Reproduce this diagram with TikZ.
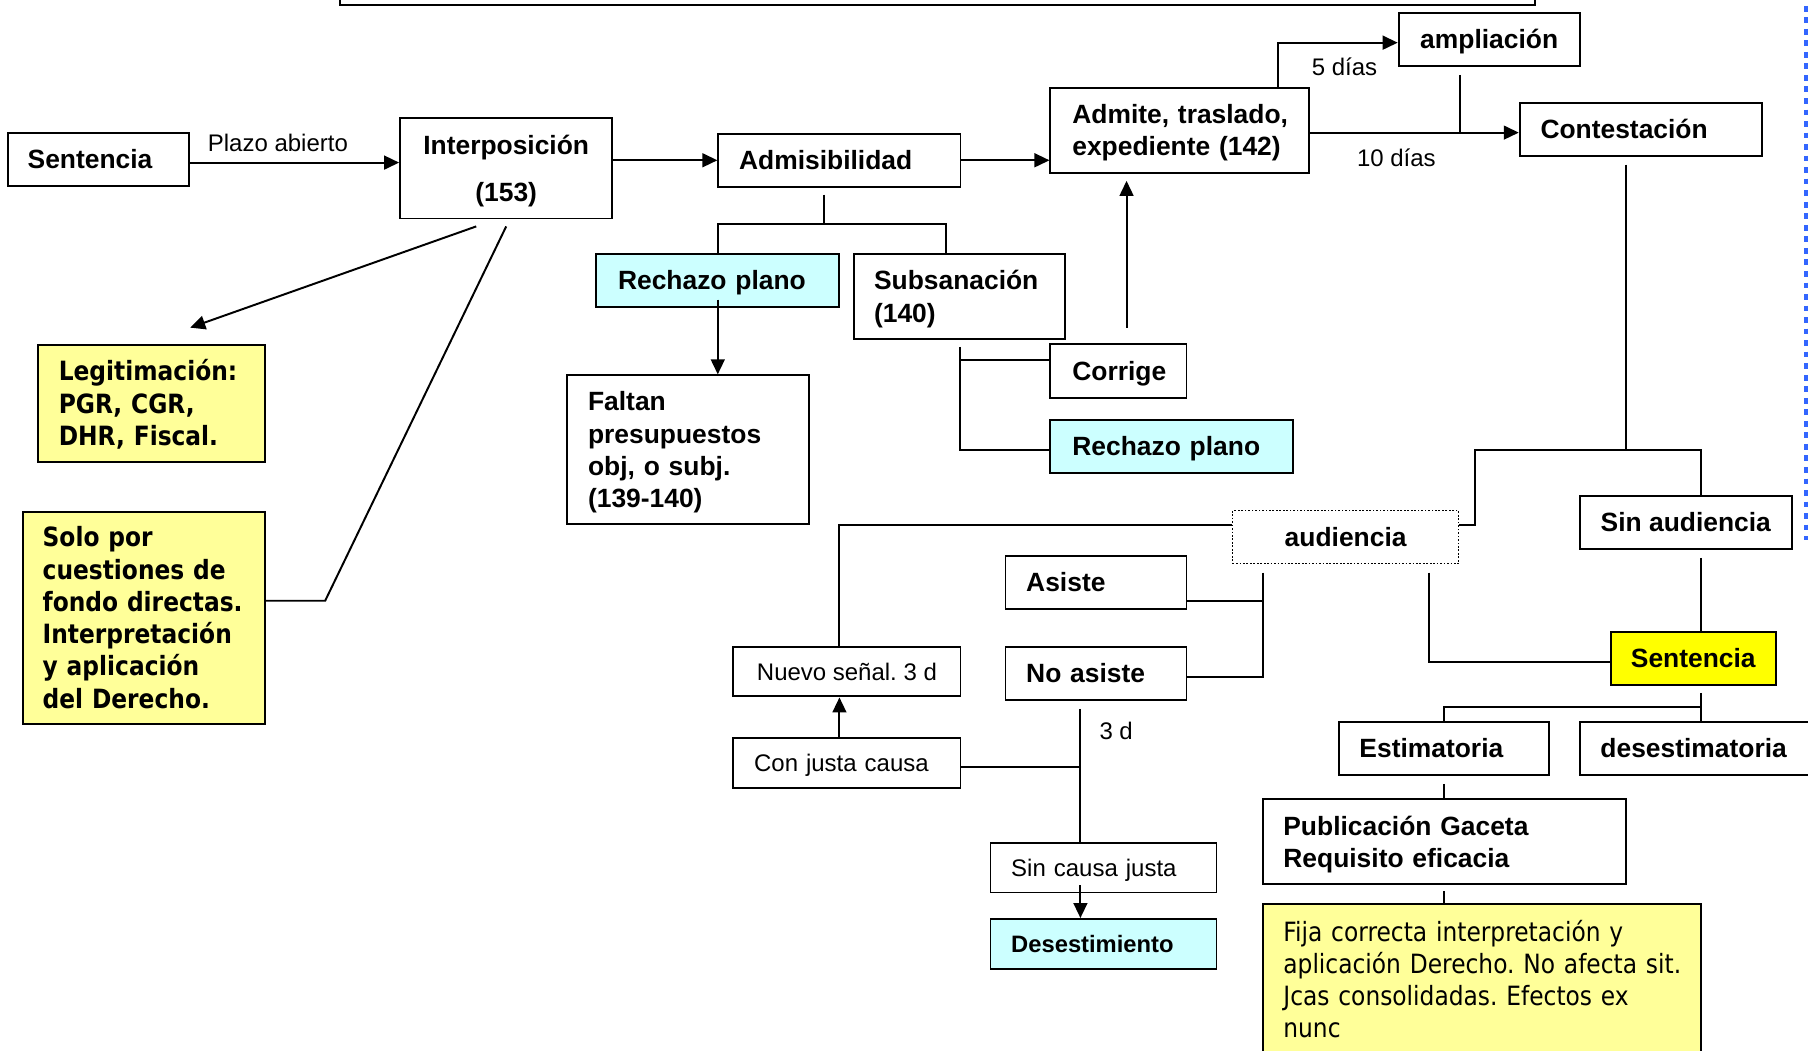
\documentclass[tikz,border=0pt]{standalone}
\usepackage{fontspec}
\setmainfont{Liberation Sans}
\newfontfamily\tahfont[FakeStretch=0.88]{DejaVu Sans}
\usetikzlibrary{arrows.meta}
\definecolor{lyel}{RGB}{255,255,153}
\definecolor{yel}{RGB}{255,255,0}
\definecolor{cyanbox}{RGB}{204,255,255}
\definecolor{bluedot}{RGB}{51,102,255}
\frenchspacing
\begin{document}
\begin{tikzpicture}[x=1pt,y=-1pt,
  bx/.style={draw, line width=1.7pt, inner sep=0pt, align=left,
    font=\bfseries\fontsize{22.9}{28}\selectfont, text height=16.5pt, text depth=0pt},
  dim/.style n args={3}{minimum width=#1pt, minimum height=#2pt, text width=#3pt},
  cdim/.style n args={2}{minimum width=#1pt, minimum height=#2pt, align=center},
  dtwo/.style={text depth=28pt},
  dfour/.style={text depth=84pt},
  dthree/.style={text depth=56pt},
  dsix/.style={text depth=140pt},
  rg/.style={font=\fontsize{20.8}{25}\selectfont, text height=14.9pt},
  tah/.style={font=\tahfont\bfseries\fontsize{23}{28}\selectfont},
  tahr/.style={font=\tahfont\fontsize{23}{27.7}\selectfont, text depth=83pt},
  lbl/.style={inner sep=0pt, font=\fontsize{20.8}{25}\selectfont, text height=14.9pt, text depth=0pt},
  conn/.style={line width=1.7pt},
  arr/.style={line width=1.7pt, -{Triangle[length=13pt,width=12pt]}},
]
\useasboundingbox (0,0) rectangle (1568,911);

% nodes
\node[bx, minimum width=1036pt, minimum height=44pt] (topbox) at (813,-18) {};
\node[bx, dim={157}{46}{123}] (sent1) at (85.5,138) {Sentencia};
\node[bx, dim={184}{87}{148}, align=center, font=\bfseries\fontsize{22.9}{41}\selectfont, text depth=41pt] (interp) at (439,146) {Interposición\\(153)};
\node[bx, dim={210}{46}{174}] (admis) at (728,139) {Admisibilidad};
\node[bx, dim={224}{74}{186}, dtwo] (admite) at (1023,113) {Admite,~traslado,\\expediente~(142)};
\node[bx, cdim={157}{46}] (ampl) at (1291.5,34) {ampliación};
\node[bx, dim={210}{46}{174}] (contest) at (1423,112) {Contestación};
\node[bx, dim={211}{46}{173}, fill=cyanbox] (rech1) at (622.5,243) {Rechazo~plano};
\node[bx, dim={183}{74}{149}, dtwo] (subs) at (832.5,257) {Subsanación\\(140)};
\node[bx, dim={210}{129}{174}, dfour] (faltan) at (597,390) {Faltan\\presupuestos\\obj,~o~subj.\\(139-140)};
\node[bx, dim={118}{47}{80}] (corrige) at (970,321.5) {Corrige};
\node[bx, dim={210}{46}{172}, fill=cyanbox] (rech2) at (1016,387) {Rechazo~plano};
\node[bx, tah, dim={197}{102}{161}, dthree, fill=lyel] (legit) at (131.5,350) {Legitimación:\\PGR,~CGR,\\DHR,~Fiscal.};
\node[bx, tah, dim={210}{184}{176}, dsix, fill=lyel] (solo) at (125,536) {Solo~por\\cuestiones~de\\fondo~directas.\\Interpretación\\y~aplicación\\del~Derecho.};
\node[bx, cdim={196}{46}, line width=1pt, dash pattern=on 1.5pt off 1.5pt] (audi) at (1167,466) {audiencia};
\node[bx, cdim={184}{46}] (sinaud) at (1462,453) {Sin~audiencia};
\node[bx, cdim={143}{46}, fill=yel] (sent2) at (1468.5,571) {Sentencia};
\node[bx, dim={182}{46}{146}] (estim) at (1252,649) {Estimatoria};
\node[bx, dim={220}{46}{184}] (desest) at (1480,649) {desestimatoria};
\node[bx, dim={315}{74}{279}, dtwo] (public) at (1252.5,730) {Publicación~Gaceta\\Requisito~eficacia};
\node[bx, tahr, dim={380}{132}{344}, fill=lyel] (fija) at (1285,850) {\mbox{Fija correcta interpretación y}\\\mbox{aplicación Derecho. No afecta sit.}\\\mbox{Jcas consolidadas. Efectos ex}\\\mbox{nunc}};
\node[bx, rg, cdim={197}{43}] (nuevo) at (734.5,582.5) {Nuevo~señal.~3~d};
\node[bx, dim={157}{46}{121}] (asiste) at (950.5,505) {Asiste};
\node[bx, dim={157}{46}{121}] (noasiste) at (950.5,584) {No~asiste};
\node[bx, rg, dim={197}{43}{161}] (conjusta) at (734.5,661.5) {Con~justa~causa};
\node[bx, rg, dim={196}{43}{160}] (sincausa) at (957,752.5) {Sin~causa~justa};
\node[bx, dim={196}{43}{160}, fill=cyanbox, font=\bfseries\fontsize{20.6}{25}\selectfont, text height=14.8pt] (desist) at (957,818.5) {Desestimiento};

% labels
\node[lbl] (plazo) at (241,124) {Plazo abierto};
\node[lbl] (d5) at (1166,58) {5 días};
\node[lbl] (d10) at (1211,137) {10 días};
\node[lbl] (d3) at (968,634) {3 d};

% junctions
\coordinate (j1) at (1266,115);
\coordinate (j2) at (1410,390);
\coordinate (j3) at (1475,613);
\coordinate (j4) at (282,521);
\coordinate (j5) at (715,194);
\coordinate (j6) at (833,312);
\coordinate (j7) at (1095,521);
\coordinate (j8) at (937,665);

% connectors
\draw[arr] ([yshift=-3pt]sent1.east) -- ([yshift=-3pt]sent1.east -| interp.west);
\draw[arr] (interp.east |- admis.west) -- (admis.west);
\draw[arr] (admis.east) -- (admis.east -| admite.west);
\draw[arr] ([xshift=85pt]admite.north) |- ([yshift=-3pt]ampl.west);
\draw[arr] ([yshift=-2pt]admite.east) -- ([yshift=-2pt]admite.east -| contest.west);
\draw[conn] ([xshift=-25.5pt,yshift=-7pt]ampl.south) -- (j1);

\draw[conn] ([xshift=-13pt,yshift=-7pt]contest.south) -- (j2);
\draw[conn] ([yshift=-13pt]audi.north east) -- ++(14,0) |- (j2) -| ([xshift=13pt]sinaud.north);
\draw[conn] ([xshift=13pt,yshift=-7pt]sinaud.south) -- ([xshift=6.5pt]sent2.north);
\draw[conn] ([xshift=72pt,yshift=-7pt]audi.south) |- ([yshift=-3pt]sent2.west);
\draw[conn] ([xshift=6.5pt,yshift=-6pt]sent2.south) -- ([xshift=-5pt]desest.north);
\draw[conn] (j3) -| (estim.north);
\draw[conn] ([yshift=-7pt]estim.south) -- (estim.south |- public.north);
\draw[conn] ([yshift=-5pt]public.south) -- (public.south |- fija.north);

\draw[arr] ([xshift=-26pt,yshift=-6pt]interp.south) -- ([xshift=33.5pt,yshift=14pt]legit.north);
\draw[conn] ([yshift=-6pt]interp.south) -- (j4) -- ([yshift=15pt]solo.east);

\draw[conn] ([xshift=-13pt,yshift=-6pt]admis.south) -- (j5);
\draw[conn] (rech1.north) |- (j5) -| ([xshift=-12.5pt]subs.north);
\draw[arr] ([yshift=7pt]rech1.south) -- (rech1.south |- faltan.north);
\draw[conn] ([yshift=-6pt]subs.south) |- ([yshift=-3pt]rech2.west);
\draw[conn] ([yshift=9.5pt]corrige.west) -- (j6);
\draw[arr] ([xshift=7pt,yshift=13pt]corrige.north) -- ([xshift=-46pt,yshift=-6pt]admite.south);

\draw[conn] ([yshift=-13pt]audi.north west) -| ([xshift=-6.5pt]nuevo.north);
\draw[conn] ([xshift=-72pt,yshift=-7pt]audi.south) |- ([yshift=-3pt]noasiste.east);
\draw[conn] ([yshift=-16pt]asiste.east) -- (j7);
\draw[conn] ([xshift=-13.5pt,yshift=-7pt]noasiste.south) -- ([xshift=-20pt]sincausa.north);
\draw[conn] ([yshift=-3.5pt]conjusta.east) -- (j8);
\draw[arr] ([xshift=-6.5pt]conjusta.north) -- ([xshift=-6.5pt]nuevo.south);
\draw[arr] ([xshift=-20pt,yshift=7pt]sincausa.south) -- ([xshift=-20pt]desist.north);

\draw[bluedot, line width=3.5pt, dash pattern=on 5pt off 5pt] (1566,-5) -- (1566,468);
\end{tikzpicture}
\end{document}
